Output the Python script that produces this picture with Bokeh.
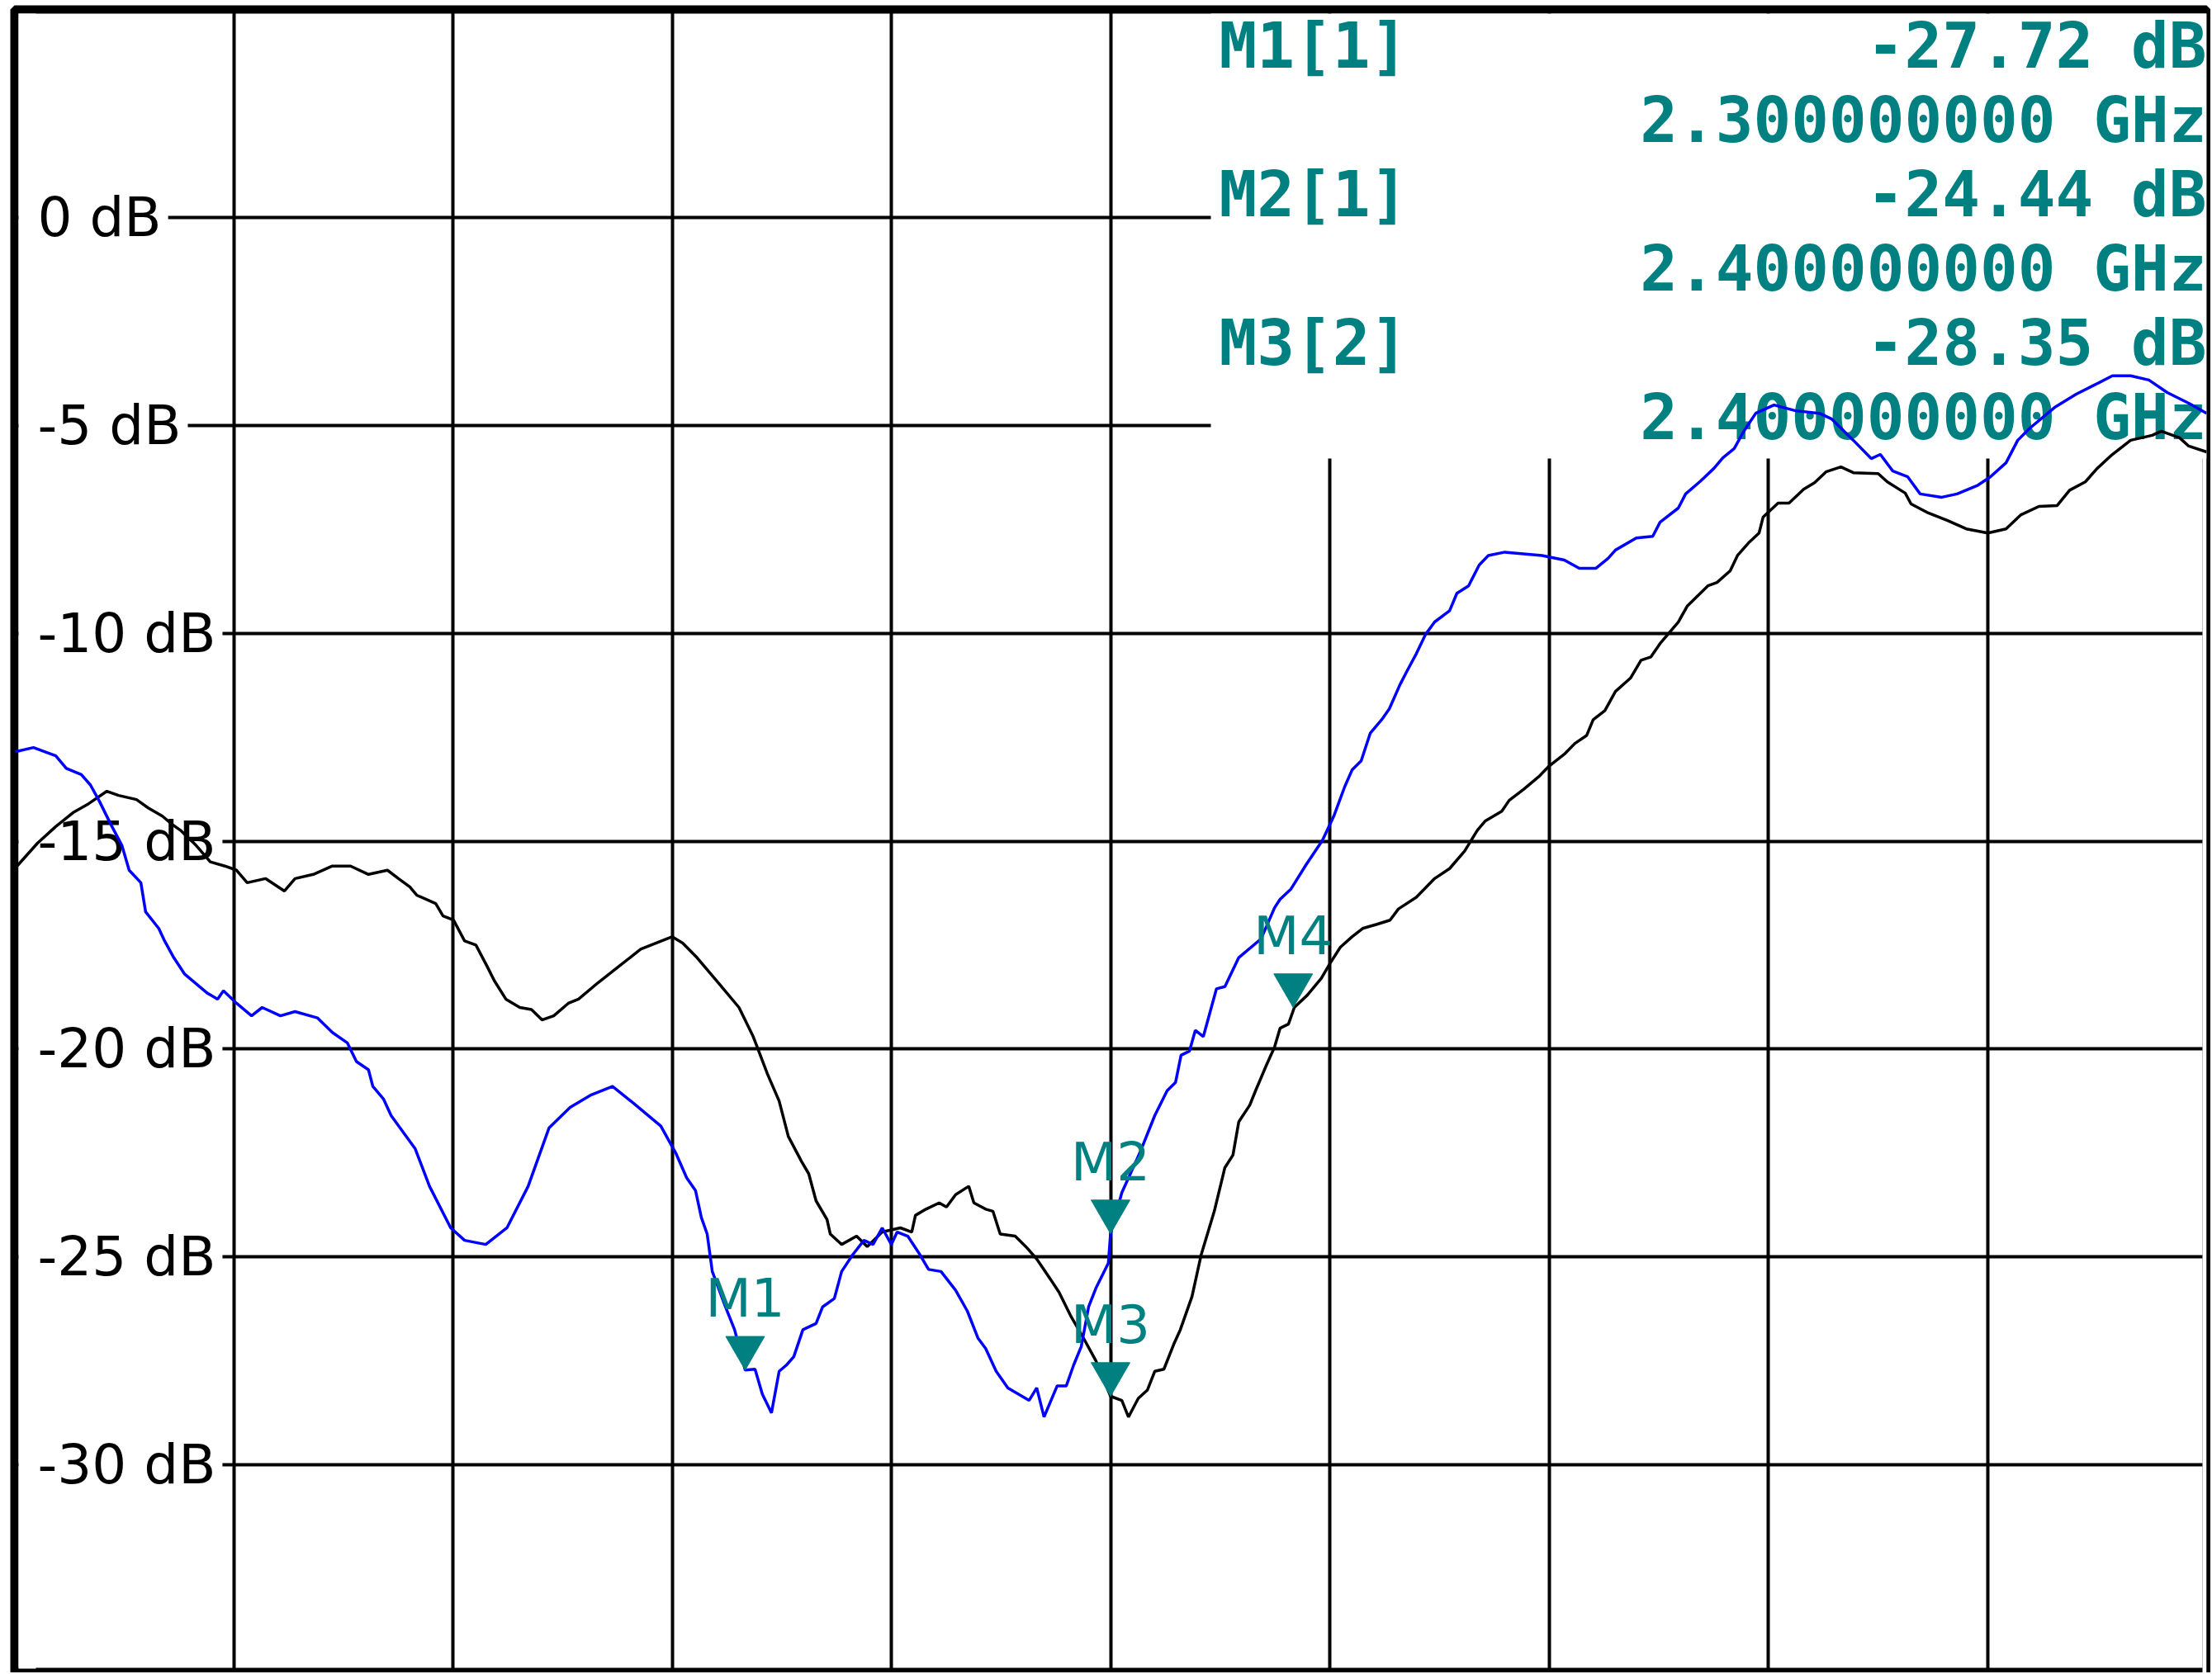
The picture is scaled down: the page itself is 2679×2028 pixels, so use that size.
import math
from bokeh.plotting import figure
from bokeh.models import Range1d, FixedTicker
from bokeh.core.properties import value
from bokeh.embed import file_html
from bokeh.resources import INLINE

# ---------------- data ----------------
trc1_freq = [2.1002, 2.1052, 2.1113, 2.1142, 2.1183, 2.1208, 2.1233, 2.1264, 2.1294, 2.1314,
             2.1346, 2.1359, 2.1395, 2.1411, 2.1436, 2.1466, 2.1527, 2.1556, 2.1572, 2.1608,
             2.1649, 2.1678, 2.1728, 2.1768, 2.1829, 2.1870, 2.1911, 2.1936, 2.1969, 2.1981,
             2.2010, 2.2031, 2.2097, 2.2136, 2.2194, 2.2232, 2.2290, 2.2348, 2.2406, 2.2463,
             2.2521, 2.2579, 2.2637, 2.2694, 2.2769, 2.2810, 2.2840, 2.2864, 2.2880, 2.2896,
             2.2910, 2.2946, 2.2971, 2.3000, 2.3027, 2.3047, 2.3072, 2.3093, 2.3113, 2.3133,
             2.3158, 2.3194, 2.3212, 2.3244, 2.3264, 2.3294, 2.3325, 2.3350, 2.3375, 2.3400,
             2.3416, 2.3445, 2.3475, 2.3502, 2.3536, 2.3576, 2.3608, 2.3637, 2.3658, 2.3687,
             2.3719, 2.3748, 2.3777, 2.3798, 2.3818, 2.3854, 2.3879, 2.3899, 2.3920, 2.3940,
             2.3960, 2.3994, 2.4000, 2.4031, 2.4080, 2.4121, 2.4155, 2.4178, 2.4193, 2.4216,
             2.4232, 2.4254, 2.4290, 2.4313, 2.4351, 2.4412, 2.4449, 2.4464, 2.4494, 2.4535,
             2.4580, 2.4611, 2.4641, 2.4661, 2.4686, 2.4711, 2.4742, 2.4763, 2.4792, 2.4812,
             2.4837, 2.4862, 2.4887, 2.4928, 2.4948, 2.4980, 2.5009, 2.5034, 2.5079, 2.5181,
             2.5242, 2.5283, 2.5328, 2.5362, 2.5382, 2.5439, 2.5484, 2.5504, 2.5554, 2.5574,
             2.5615, 2.5651, 2.5676, 2.5707, 2.5732, 2.5766, 2.5816, 2.5875, 2.5940, 2.5974,
             2.6033, 2.6082, 2.6107, 2.6141, 2.6182, 2.6216, 2.6275, 2.6317, 2.6374, 2.6408,
             2.6451, 2.6483, 2.6516, 2.6584, 2.6643, 2.6684, 2.6742, 2.6792, 2.6842, 2.6892,
             2.6951, 2.7000]
trc1_db = [-12.85, -12.75, -12.95, -13.25, -13.4, -13.65, -14.05, -14.6, -15.1, -15.7,
           -16.0, -16.7, -17.1, -17.4, -17.8, -18.2, -18.65, -18.8, -18.6, -18.9,
           -19.2, -19.0, -19.2, -19.1, -19.25, -19.6, -19.85, -20.3, -20.5, -20.9,
           -21.2, -21.6, -22.4, -23.3, -24.3, -24.6, -24.7, -24.3, -23.3, -21.9,
           -21.4, -21.1, -20.9, -21.3, -21.85, -22.5, -23.1, -23.4, -24.05, -24.45,
           -25.35, -26.2, -26.75, -27.72, -27.7, -28.3, -28.75, -27.75, -27.6, -27.4,
           -26.75, -26.6, -26.2, -26.0, -25.35, -24.95, -24.6, -24.7, -24.3, -24.7,
           -24.4, -24.5, -24.9, -25.3, -25.35, -25.8, -26.3, -26.95, -27.2, -27.75,
           -28.15, -28.3, -28.45, -28.15, -28.85, -28.1, -28.1, -27.6, -27.15, -26.2,
           -25.75, -25.15, -24.44, -23.45, -22.5, -21.6, -21.0, -20.8, -20.15, -20.05,
           -19.55, -19.7, -18.55, -18.5, -17.8, -17.35, -16.6, -16.4, -16.15, -15.57,
           -14.98, -14.4, -13.69, -13.29, -13.07, -12.4, -12.08, -11.82, -11.24, -10.9,
           -10.49, -10.03, -9.73, -9.46, -9.04, -8.86, -8.36, -8.13, -8.05, -8.13,
           -8.24, -8.44, -8.44, -8.2, -8.0, -7.71, -7.67, -7.33, -6.99, -6.65,
           -6.34, -6.04, -5.78, -5.56, -5.16, -4.71, -4.51, -4.65, -4.71, -4.85,
           -5.36, -5.80, -5.70, -6.10, -6.24, -6.65, -6.73, -6.65, -6.44, -6.24,
           -5.90, -5.36, -5.07, -4.57, -4.25, -4.07, -3.81, -3.81, -3.91, -4.21,
           -4.47, -4.71]

trc2_freq = [2.1007, 2.1063, 2.1113, 2.1163, 2.1203, 2.1253, 2.1285, 2.1334, 2.1366, 2.1405,
             2.1432, 2.1456, 2.1497, 2.1536, 2.1576, 2.1608, 2.1637, 2.1687, 2.1739, 2.1768,
             2.1818, 2.1870, 2.1920, 2.1969, 2.2021, 2.2051, 2.2082, 2.2101, 2.2153, 2.2173,
             2.2202, 2.2232, 2.2263, 2.2293, 2.2313, 2.2345, 2.2383, 2.2415, 2.2444, 2.2476,
             2.2516, 2.2544, 2.2598, 2.2656, 2.2714, 2.2771, 2.2800, 2.2829, 2.2868, 2.2926,
             2.2983, 2.3022, 2.3061, 2.3093, 2.3118, 2.3154, 2.3174, 2.3194, 2.3224, 2.3233,
             2.3264, 2.3305, 2.3334, 2.3375, 2.3425, 2.3456, 2.3466, 2.3495, 2.3531, 2.3551,
             2.3576, 2.3612, 2.3626, 2.3658, 2.3678, 2.3698, 2.3739, 2.3768, 2.3798, 2.3829,
             2.3859, 2.3890, 2.3929, 2.3960, 2.4000, 2.4031, 2.4049, 2.4076, 2.4101, 2.4121,
             2.4146, 2.4173, 2.4191, 2.4223, 2.4248, 2.4284, 2.4313, 2.4335, 2.4351, 2.4381,
             2.4397, 2.4426, 2.4449, 2.4464, 2.4487, 2.4503, 2.4539, 2.4577, 2.4600, 2.4629,
             2.4661, 2.4690, 2.4729, 2.4765, 2.4788, 2.4837, 2.4887, 2.4928, 2.4969, 2.5004,
             2.5025, 2.5071, 2.5091, 2.5131, 2.5172, 2.5201, 2.5242, 2.5271, 2.5303, 2.5321,
             2.5353, 2.5382, 2.5423, 2.5452, 2.5479, 2.5504, 2.5554, 2.5579, 2.5635, 2.5660,
             2.5696, 2.5716, 2.5746, 2.5775, 2.5786, 2.5827, 2.5857, 2.5897, 2.5927, 2.5958,
             2.5999, 2.6033, 2.6101, 2.6126, 2.6175, 2.6191, 2.6234, 2.6291, 2.6342, 2.6401,
             2.6451, 2.6492, 2.6541, 2.6591, 2.6625, 2.6668, 2.6700, 2.6742, 2.6792, 2.6851,
             2.6876, 2.6926, 2.6951, 2.7000]
trc2_db = [-15.6, -15.05, -14.65, -14.3, -14.1, -13.8, -13.9, -14.0, -14.2, -14.4,
           -14.6, -14.75, -15.1, -15.5, -15.6, -15.7, -16.0, -15.9, -16.2, -15.9,
           -15.8, -15.6, -15.6, -15.8, -15.7, -15.9, -16.1, -16.3, -16.5, -16.8,
           -16.9, -17.4, -17.5, -18.0, -18.35, -18.8, -19.0, -19.05, -19.3, -19.2,
           -18.9, -18.8, -18.4, -18.0, -17.6, -17.4, -17.3, -17.45, -17.8, -18.4,
           -19.0, -19.7, -20.6, -21.25, -22.1, -22.7, -23.0, -23.65, -24.1, -24.45,
           -24.7, -24.5, -24.75, -24.4, -24.3, -24.4, -24.0, -23.85, -23.7, -23.8,
           -23.5, -23.3, -23.7, -23.85, -23.9, -24.45, -24.5, -24.75, -25.05, -25.45,
           -25.85, -26.4, -27.0, -27.5, -28.35, -28.45, -28.85, -28.4, -28.2, -27.75,
           -27.7, -27.1, -26.75, -25.95, -24.95, -23.9, -22.85, -22.55, -21.75, -21.35,
           -21.0, -20.4, -19.95, -19.5, -19.4, -19.0, -18.7, -18.3, -17.95, -17.55,
           -17.3, -17.1, -17.0, -16.9, -16.63, -16.35, -15.9, -15.66, -15.24, -14.74,
           -14.52, -14.28, -14.02, -13.75, -13.45, -13.19, -12.91, -12.65, -12.46, -12.08,
           -11.86, -11.40, -11.08, -10.65, -10.57, -10.25, -9.73, -9.34, -8.86, -8.78,
           -8.5, -8.13, -7.83, -7.59, -7.21, -6.87, -6.87, -6.54, -6.38, -6.12,
           -6.0, -6.14, -6.16, -6.36, -6.63, -6.89, -7.09, -7.29, -7.49, -7.59,
           -7.49, -7.15, -6.95, -6.93, -6.56, -6.36, -6.04, -5.70, -5.36, -5.24,
           -5.14, -5.30, -5.50, -5.64]

marker_names = ["M1", "M2", "M3", "M4"]
marker_freq = [2.30, 2.40, 2.40, 2.45]
marker_db = [-27.72, -24.44, -28.35, -19.0]

info_names = ["M1[1]", "M2[1]", "M3[2]"]
info_levels = ["-27.72 dB", "-24.44 dB", "-28.35 dB"]
info_freqs = ["2.300000000 GHz", "2.400000000 GHz", "2.400000000 GHz"]

y_ticks = [0, -5, -10, -15, -20, -25, -30]
y_tick_labels = ["0 dB", "-5 dB", "-10 dB", "-15 dB", "-20 dB", "-25 dB", "-30 dB"]
x_ticks = [2.16, 2.22, 2.28, 2.34, 2.40, 2.46, 2.52, 2.58, 2.64]

# ---------------- layout ----------------
W, H = 2677, 2026
BL, BR, BT, BB = 17, 5, 11, 0
X0, X1 = 2.1, 2.7
Y0, Y1 = -35.0, 5.0
px_x = (W - BL - BR) / (X1 - X0)     # pixels per GHz
px_y = (H - BT - BB) / (Y1 - Y0)     # pixels per dB
FRAME_W = 10                         # width of the diagram border

TEAL = "#008080"
BLUE = "#0000ff"

p = figure(width=W, height=H, x_range=Range1d(X0, X1), y_range=Range1d(Y0, Y1),
           output_backend="svg", toolbar_location=None, title=None,
           x_axis_location=None, y_axis_location=None,
           min_border_left=BL, min_border_right=BR, min_border_top=BT, min_border_bottom=BB)
p.outline_line_color = "black"
p.outline_line_width = FRAME_W
p.background_fill_color = "white"
p.border_fill_color = "white"
p.xgrid.ticker = FixedTicker(ticks=x_ticks)
p.ygrid.ticker = FixedTicker(ticks=y_ticks)
p.xgrid.grid_line_color = "black"
p.ygrid.grid_line_color = "black"
p.xgrid.grid_line_width = 4
p.ygrid.grid_line_width = 4

# white strips (left edge behind the labels, thin right edge) and the white
# marker-info box; they hide the grid but leave the inner half of the left/top border
inner_x = (FRAME_W / 2) / px_x
inner_y = (FRAME_W / 2) / px_y
LAB_OFF = 20
p.quad(left=[X0 + inner_x], right=[X0 + (LAB_OFF + 6) / px_x],
       bottom=[Y0 + inner_y], top=[Y1 - inner_y],
       fill_color="white", line_color=None)
p.quad(left=[X1 - inner_x], right=[X1], bottom=[Y0], top=[Y1 - inner_y],
       fill_color="white", line_color=None)
box_left = X0 + 1449 / px_x
box_bottom = Y1 - 544 / px_y
p.quad(left=[box_left], right=[X1], bottom=[box_bottom], top=[Y1 - inner_y],
       fill_color="white", line_color=None)

# y tick labels inside the diagram
p.text(x=[X0] * len(y_ticks), y=y_ticks, text=y_tick_labels,
       x_offset=LAB_OFF, text_align="left", text_baseline="middle",
       text_font=value("DejaVu Sans"), text_font_size="66px", text_color="black",
       background_fill_color="white", padding=8)

# marker info table (rows 90 px apart, first row centred 44 px below the top)
row_h = 90 / px_y
first_c = Y1 - 44 / px_y
name_y = [first_c - 2 * i * row_h for i in range(len(info_names))]
freq_y = [first_c - (2 * i + 1) * row_h for i in range(len(info_names))]
info_font = dict(text_font=value("DejaVu Sans Mono"), text_font_style="bold",
                 text_font_size="76px", text_color=TEAL, text_baseline="middle")
p.text(x=[box_left + 10 / px_x] * len(info_names), y=name_y, text=info_names,
       text_align="left", **info_font)
p.text(x=[X1] * len(info_levels), y=name_y, text=info_levels,
       text_align="right", **info_font)
p.text(x=[X1] * len(info_freqs), y=freq_y, text=info_freqs,
       text_align="right", **info_font)

# traces
p.line(trc2_freq, trc2_db, line_color="black", line_width=3.5)
p.line(trc1_freq, trc1_db, line_color=BLUE, line_width=3.5)

# markers: inverted triangle with its tip on the trace, name above it
tri = 47
tip_off = (2.0 / 3.0) * tri * math.sqrt(3) / 2
tri_y = [v + tip_off / px_y for v in marker_db]
p.scatter(marker_freq, tri_y, marker="inverted_triangle", size=tri,
          fill_color=TEAL, line_color=TEAL)
lab_y = [v + 87 / px_y for v in marker_db]
p.text(x=marker_freq, y=lab_y, text=marker_names, text_align="center",
       text_baseline="middle", text_font=value("DejaVu Sans"),
       text_font_size="64px", text_color=TEAL)

open("out.html", "w").write(file_html(p, INLINE))
